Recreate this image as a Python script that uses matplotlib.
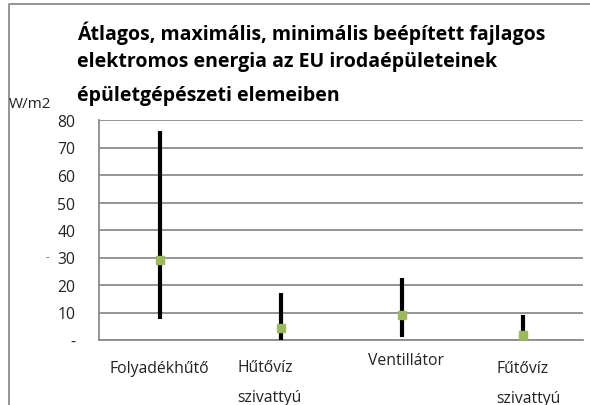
import matplotlib
matplotlib.use("Agg")
import matplotlib.pyplot as plt
from matplotlib.lines import Line2D
import matplotlib.transforms as mtransforms

# data
categories = ["Folyadékhűtő", "Hűtővíz\nszivattyú", "Ventillátor", "Fűtővíz\nszivattyú"]
maxValues = [76, 17, 22.5, 9]
minValues = [7.5, 0, 1, 0.3]
avgValues = [29, 4.5, 9, 2]
yTicks = [0, 10, 20, 30, 40, 50, 60, 70, 80]
yTickLabels = ["-", "10", "20", "30", "40", "50", "60", "70", "80"]

titleLines = ["Átlagos, maximális, minimális beépített fajlagos",
              "elektromos energia az EU irodaépületeinek",
              "épületgépészeti elemeiben"]

plt.rcParams["font.family"] = ["Open Sans", "DejaVu Sans"]

W, H = 590, 406
fig = plt.figure(figsize=(W / 100, H / 100), dpi=100)
ax = fig.add_axes([99 / W, 1 - 341 / H, (583 - 99) / W, (341 - 121) / H])

xs = list(range(len(categories)))
ax.vlines(xs, minValues, maxValues, color="black", linewidth=3, zorder=3)
ax.plot(xs, avgValues, linestyle="none", marker="s", markersize=6,
        color="#9bbb59", markeredgecolor="#9bbb59", zorder=4)

ax.set_xlim(-0.5, len(categories) - 0.5)
ax.set_ylim(0, 80)
ax.set_yticks(yTicks)
ax.set_yticklabels(yTickLabels, fontsize=11.3, color="#222222")
ax.tick_params(axis="y", length=0, pad=17)
ax.set_xticks([])
ax.grid(axis="y", color="#8c8c8c", linewidth=1.3)
ax.set_axisbelow(True)
for side in ["top", "right"]:
    ax.spines[side].set_visible(False)
ax.spines["left"].set_color("#8c8c8c")
ax.spines["left"].set_linewidth(1.3)
ax.spines["bottom"].set_color("#8c8c8c")
ax.spines["bottom"].set_linewidth(1.3)

# category labels (Excel puts them a bit unevenly), offsets in pixels to the last line's baseline
labelLayout = [("center", 0, -32), ("left", -43, -61), ("center", 4, -24), ("left", -26, -62)]
for x, label, (ha, dx, dy) in zip(xs, categories, labelLayout):
    tr = ax.get_xaxis_transform() + mtransforms.ScaledTranslation(dx / 100, dy / 100, fig.dpi_scale_trans)
    ax.text(x, 0, label, transform=tr, ha=ha, va="baseline", multialignment="left",
            fontsize=11.3, color="#222222", linespacing=2.15)

# title
titleY = [33, 62, 96]
for line, y in zip(titleLines, titleY):
    fig.text(77 / W, 1 - y / H, line, ha="left", va="center", fontsize=14,
             fontweight="bold", color="black")

fig.text(9 / W, 1 - 105 / H, "W/m2", ha="left", va="center", fontsize=11, color="#222222")
fig.text(47 / W, 1 - 258 / H, "-", ha="center", va="center", fontsize=8, color="#555555")

# chart area border (cropped on right and bottom)
fig.add_artist(Line2D([9 / W, 9 / W, 1.0], [0.0, 1 - 5 / H, 1 - 5 / H],
                      transform=fig.transFigure, color="#8c8c8c", linewidth=1.3))

fig.savefig("out.png", dpi=100)
